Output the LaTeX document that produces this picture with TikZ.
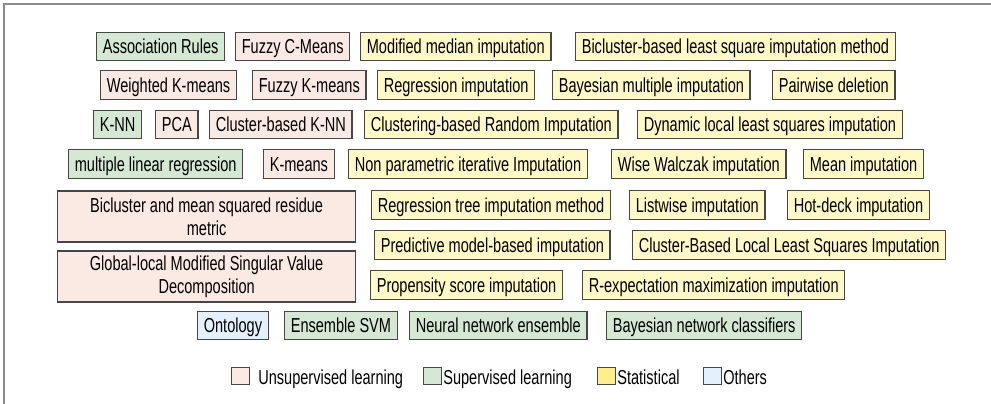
\documentclass[tikz,border=0pt]{standalone}
\usepackage{fontspec}
\setmainfont{Liberation Sans}[FakeStretch=0.72]
\usetikzlibrary{positioning}
\definecolor{unsupfill}{RGB}{251,233,227}
\definecolor{supfill}{RGB}{213,232,212}
\definecolor{statfill}{RGB}{255,249,200}
\definecolor{statkey}{RGB}{255,238,140}
\definecolor{otherfill}{RGB}{228,241,252}
\definecolor{boxline}{RGB}{70,70,70}
\definecolor{frameline}{RGB}{140,140,140}
\tikzset{
    method/.style={rectangle, draw=boxline, line width=0.75pt, minimum height=0.57cm, inner xsep=3.5pt, inner ysep=0pt, text height=8.3pt, text depth=0pt, anchor=west, font=\fontsize{11.5}{13.2}\selectfont},
    unsup/.style={method, fill=unsupfill},
    sup/.style={method, fill=supfill},
    stat/.style={method, fill=statfill},
    other/.style={method, fill=otherfill},
    wide/.style={unsup, text height=, text depth=, align=center, minimum width=5.96cm, minimum height=1.02cm},
    keybox/.style={rectangle, draw=boxline, line width=0.5pt, minimum width=0.36cm, minimum height=0.34cm, inner sep=0pt},
    keytext/.style={anchor=west, inner sep=0pt, text height=8.3pt, text depth=0pt, font=\fontsize{11.5}{13.2}\selectfont},
}
\begin{document}
\begin{tikzpicture}[x=0.02cm, y=-0.02cm]
            \useasboundingbox (0,0) rectangle (991,404);
            \draw[frameline, line width=0.85pt] (4,404) -- (4,4) -- (991,4);
            % row 1
            \node[sup] (assoc) at (96,46.5) {Association Rules};
            \node[unsup] (fcm) at (235,46.5) {Fuzzy C-Means};
            \node[stat] (modmed) at (360,46.5) {Modified median imputation};
            \node[stat] (bicls) at (575,46.5) {Bicluster-based least square imputation method};
            % row 2
            \node[unsup] (wkm) at (100,85) {Weighted K-means};
            \node[unsup] (fkm) at (252,85) {Fuzzy K-means};
            \node[stat] (regimp) at (377,85) {Regression imputation};
            \node[stat] (bayesimp) at (552,85) {Bayesian multiple imputation};
            \node[stat] (pairdel) at (772,85) {Pairwise deletion};
            % row 3
            \node[sup] (knn) at (93,124.5) {K-NN};
            \node[unsup] (pca) at (155,124.5) {PCA};
            \node[unsup] (cknn) at (209,124.5) {Cluster-based K-NN};
            \node[stat] (crand) at (364,124.5) {Clustering-based Random Imputation};
            \node[stat] (dlls) at (637,124.5) {Dynamic local least squares imputation};
            % row 4
            \node[sup] (mlr) at (68,164) {multiple linear regression};
            \node[unsup] (kmeans) at (263,164) {K-means};
            \node[stat] (npii) at (348,164) {Non parametric iterative Imputation};
            \node[stat] (wwi) at (611,164) {Wise Walczak imputation};
            \node[stat] (meanimp) at (803,164) {Mean imputation};
            % rows 5 to 7
            \node[wide] (bimsr) at (57,216.5) {Bicluster and mean squared residue\\metric};
            \node[wide] (glmsvd) at (57,276.5) {Global-local Modified Singular Value\\Decomposition};
            \node[stat] (regtree) at (371,205) {Regression tree imputation method};
            \node[stat] (listwise) at (629,205) {Listwise imputation};
            \node[stat] (hotdeck) at (787,205) {Hot-deck imputation};
            \node[stat] (predmod) at (374,245) {Predictive model-based imputation};
            \node[stat] (cblls) at (632,245) {Cluster-Based Local Least Squares Imputation};
            \node[stat] (propens) at (370,285) {Propensity score imputation};
            \node[stat] (rexp) at (582,285) {R-expectation maximization imputation};
            % row 8
            \node[other] (onto) at (197,325.5) {Ontology};
            \node[sup] (esvm) at (284,325.5) {Ensemble SVM};
            \node[sup] (nne) at (409,325.5) {Neural network ensemble};
            \node[sup] (bnc) at (606,325.5) {Bayesian network classifiers};
            % legend
            \foreach \bx/\tx/\col/\lab/\nm in {240/258/unsupfill/Unsupervised learning/unsup, 432.5/443/supfill/Supervised learning/sup, 606/617/statkey/Statistical/stat, 712.5/723/otherfill/Others/other} {
                \node[keybox, fill=\col] (key\nm) at (\bx,375.5) {};
                \node[keytext] (lab\nm) at (\tx,377) {\lab};
            }
        \end{tikzpicture}
\end{document}
